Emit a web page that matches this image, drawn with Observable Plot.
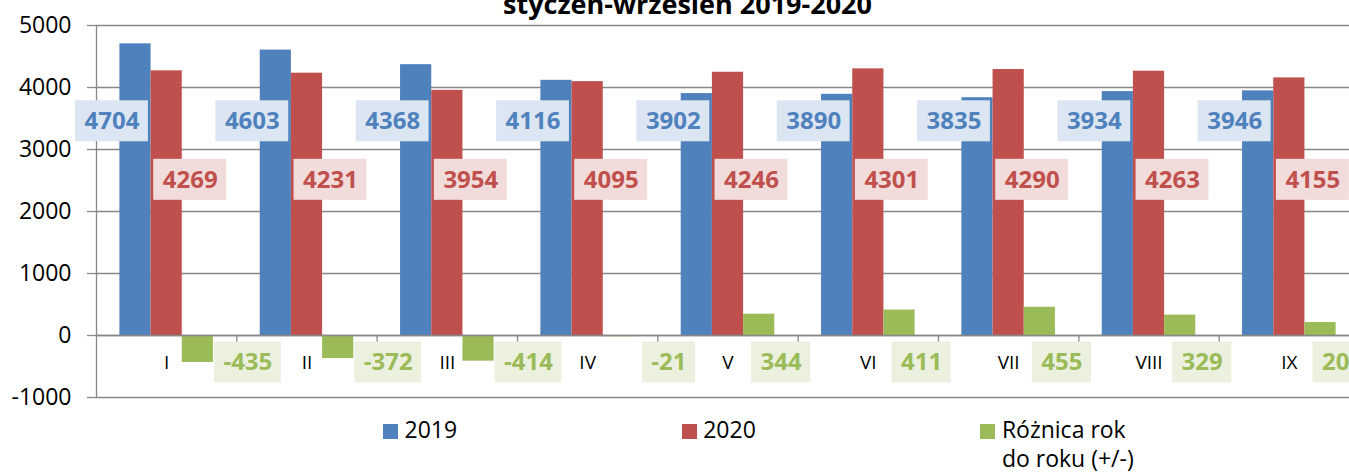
<!DOCTYPE html>
<html><head><meta charset="utf-8">
<script src="https://cdn.jsdelivr.net/npm/d3@7"></script>
<script src="https://cdn.jsdelivr.net/npm/@observablehq/plot@0.6"></script>
<style>
html,body{margin:0;padding:0;background:#fff;overflow:hidden;}
#wrap{position:relative;width:1349px;height:474px;overflow:hidden;font-family:'Open Sans',sans-serif;background:#fff;}
#chart{position:absolute;left:0;top:0;}
#title{position:absolute;left:0;width:1375px;top:-10.5px;text-align:center;font-weight:bold;font-size:27px;line-height:1;color:#000;white-space:nowrap;}
.sw{position:absolute;width:15px;height:15px;top:424px;}
.lt{position:absolute;top:414.5px;font-size:23px;line-height:29.4px;color:#000;width:150px;}
</style></head><body>
<div id="wrap">
  <div id="chart"></div>
  <div id="title">styczeń-wrzesień 2019-2020</div>
  <div id="legend"></div>
</div>
<script>
// ---- data ----
const months = ["I","II","III","IV","V","VI","VII","VIII","IX"];
const values2019 = [4704,4603,4368,4116,3902,3890,3835,3934,3946];
const values2020 = [4269,4231,3954,4095,4246,4301,4290,4263,4155];
const valuesDiff = [-435,-372,-414,-21,344,411,455,329,209];
const seriesNames = ["2019","2020","Różnica rok do roku (+/-)"];
const yTicks = [-1000,0,1000,2000,3000,4000,5000];

// ---- style / layout ----
const GRAY = "#888888";
const COLORS = ["#4F81BD","#C0504D","#9BBB59"];
const BG = ["#DCE6F2","#F2DCDB","#EBF1DE"];
const W = 1359, H = 410, ML = 96, MR = 0, MT = 25, MB = 13;
const PAD = 0.75, SLOTS = 4.5;
const LABEL_Y = [3455, 2511, -435];
const CAT_Y = -435;
const pxPerUnit = (W - ML - MR) / months.length;

const rows = [];
[values2019, values2020, valuesDiff].forEach((vals, j) =>
  vals.forEach((v, i) => rows.push({month: months[i], i, j, series: seriesNames[j], value: v})));

const slotCenter = d => d.i + (PAD + d.j + 0.5) / SLOTS;
const labelDx = d => d.j === 0 ? -23.5 : d.j === 1 ? 23.5 : (d.value < 0 ? 50 : 22);
const ctx = document.createElement("canvas").getContext("2d");
ctx.font = "bold 24px 'Open Sans'";
const labels = rows.map(d => {
  const text = String(d.value);
  const w = ctx.measureText(text).width + 18;
  const cx = slotCenter(d) + labelDx(d) / pxPerUnit;
  return {...d, text, cx, x1: cx - w / 2 / pxPerUnit, x2: cx + w / 2 / pxPerUnit, ly: LABEL_Y[d.j]};
});

const chart = Plot.plot({
  width: W, height: H,
  marginLeft: ML, marginRight: MR, marginTop: MT, marginBottom: MB,
  style: {fontFamily: "'Open Sans', sans-serif", fontSize: "23px", maxWidth: "none", background: "white", color: "black"},
  x: {domain: [0, months.length], axis: null},
  y: {domain: [-1000, 5000], axis: null},
  color: {type: "identity"},
  marks: [
    Plot.gridY({ticks: yTicks, stroke: GRAY, strokeOpacity: 1, strokeWidth: 1.3}),
    Plot.axisY({ticks: yTicks, tickSize: 9, tickPadding: 16, tickFormat: d => String(d),
      stroke: GRAY, strokeWidth: 1.3, fill: "black", fontSize: 23}),
    Plot.rect(rows, {
      x1: d => d.i + (PAD + d.j) / SLOTS,
      x2: d => d.i + (PAD + d.j + 1) / SLOTS,
      y1: 0, y2: "value",
      fill: d => COLORS[d.j]
    }),
    Plot.ruleX([0], {stroke: GRAY, strokeWidth: 1.3}),
    Plot.ruleY([0], {stroke: GRAY, strokeWidth: 1.3}),
    Plot.ruleX(d3.range(1, months.length + 1), {x: d => d, y1: 0, y2: 0, insetBottom: -7, stroke: GRAY, strokeWidth: 1.3}),
    Plot.rect(labels, {x1: "x1", x2: "x2", y1: "ly", y2: "ly", insetTop: -20.5, insetBottom: -20.5, fill: d => BG[d.j]}),
    Plot.text(labels, {x: "cx", y: "ly", text: "text", fill: d => COLORS[d.j], fontWeight: "bold", fontSize: 24}),
    Plot.text(months, {x: (d, i) => i + 0.5, y: () => CAT_Y, text: d => d, fontSize: 19, fill: "black"})
  ]
});
document.getElementById("chart").appendChild(chart);

// legend
const legend = document.getElementById("legend");
seriesNames.forEach((name, k) => {
  const left = 383 + 298.7 * k;
  const sw = document.createElement("div");
  sw.className = "sw"; sw.style.left = left + "px"; sw.style.background = COLORS[k];
  const t = document.createElement("div");
  t.className = "lt"; t.style.left = (left + 21.5) + "px"; t.textContent = name;
  legend.appendChild(sw); legend.appendChild(t);
});
</script>
</body></html>
